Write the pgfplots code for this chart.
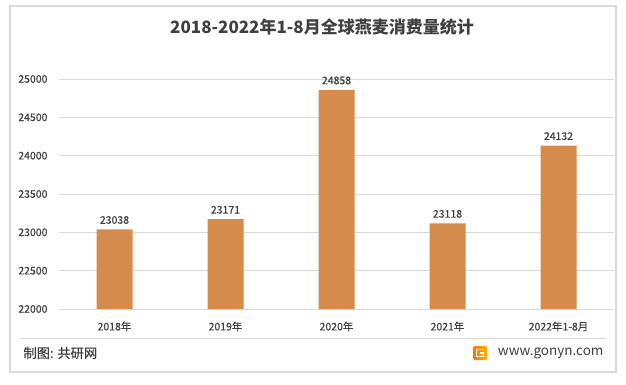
\documentclass[border=0pt]{standalone}
\usepackage{pgfplots}
\pgfplotsset{compat=1.18}
\usepackage{fontspec}
\setmainfont{Noto Sans CJK SC}
\newfontfamily\medfont[FakeBold=0.5]{Noto Sans CJK SC}
\definecolor{barc}{RGB}{212,139,76}
\definecolor{txt}{RGB}{64,64,64}
\definecolor{gridc}{RGB}{217,217,217}
\definecolor{framec}{RGB}{217,217,217}
\begin{document}
\begin{tikzpicture}[x=1pt,y=1pt]
\useasboundingbox (0,0) rectangle (626,384);
\fill[white] (0,0) rectangle (626,384);
\draw[framec,line width=1.2pt] (10,12) rectangle (616,378);
\draw[gridc,line width=0.8pt] (20,46) -- (606,46);
\node[txt,font=\fontsize{17}{20}\selectfont\bfseries] at (322,357) {2018-2022年1-8月全球燕麦消费量统计};
\node[txt,font=\fontsize{13.2}{15}\selectfont\medfont,anchor=west] at (20,31) {制图: 共研网};
\node[txt,font=\fontsize{13.5}{16}\selectfont,anchor=east] at (607,31) {www.gonyn.com};
\shade[left color=orange!90!red,right color=orange!60!yellow,rounded corners=1.5pt] (473,24) rectangle (487,38);
\draw[white,line width=1.6pt] (484,34.5) -- (476.5,34.5) -- (476.5,27.5) -- (483.5,27.5) -- (483.5,31) -- (480,31);
\begin{axis}[
  at={(59pt,75pt)}, anchor=south west,
  width=555pt, height=230pt, scale only axis,
  xmin=-0.5, xmax=4.5, ymin=22000, ymax=25000,
  ytick={22000,22500,...,25000},
  scaled y ticks=false,
  yticklabel={\pgfmathprintnumber[assume math mode=true,1000 sep={},fixed,precision=0]{\tick}},
  xtick=data,
  xticklabels={2018年,2019年,2020年,2021年,2022年1-8月},
  axis line style={draw=none},
  axis x line*=bottom,
  x axis line style={draw=gridc,line width=0.8pt},
  ymajorgrids, grid style={gridc,line width=0.8pt},
  major tick length=0pt,
  tick label style={txt,font=\fontsize{10.5}{12}\selectfont\medfont},
  yticklabel style={xshift=-8pt},
  xticklabel style={yshift=-9pt},
  clip=false,
  ybar, bar width=36pt,
  nodes near coords={\pgfmathprintnumber[assume math mode=true,1000 sep={},fixed,precision=0]{\pgfplotspointmeta}},
  nodes near coords style={txt,font=\fontsize{10.5}{12}\selectfont\medfont,yshift=2pt},
]
\addplot[fill=barc,draw=none] coordinates {(0,23038) (1,23171) (2,24858) (3,23118) (4,24132)};
\end{axis}
\end{tikzpicture}
\end{document}
